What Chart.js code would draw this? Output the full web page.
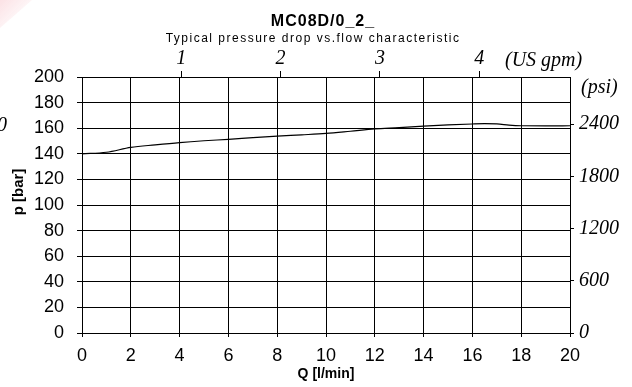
<!DOCTYPE html>
<html>
<head>
<meta charset="utf-8">
<script src="https://cdn.jsdelivr.net/npm/chart.js@4/dist/chart.umd.min.js"></script>
<style>
  html, body { margin: 0; padding: 0; background: #fff; }
  canvas { display: block; }
</style>
</head>
<body>
<canvas id="dropChart" width="632" height="387"></canvas>
<script>
// pressure drop curve, flow in l/min, pressure in bar
const flowLpm = [0, 1, 2, 3, 4, 5, 6, 7, 8, 9, 10, 11, 12, 13, 14, 15, 16, 16.5, 17, 17.5, 18, 19, 20];
const pressureBar = [140, 141.2, 145, 147, 148.8, 150.2, 151.3, 152.6, 153.8, 154.8, 155.9, 157.6, 159.4,
                     160.4, 161.6, 162.6, 163.3, 163.5, 163.4, 162.4, 161.9, 161.8, 161.9];

// secondary unit ticks
const gpmTicks = [1, 2, 3, 4];
const psiTicks = [0, 600, 1200, 1800, 2400];

const LPM_PER_GPM = 4.07;
const PSI_PER_BAR = 14.7;

const chartTitle = 'MC08D/0_2_';
const chartSubtitle = 'Typical pressure drop vs.flow characteristic';

const sans = '"Liberation Sans", Arial, sans-serif';
const serif = '"Liberation Serif", "Times New Roman", serif';

// titles, unit captions and the rotated y caption
const sheetText = {
    id: 'sheetText',
    beforeDraw(chart) {
        const ctx = chart.ctx;
        ctx.save();
        const g = ctx.createLinearGradient(0, 0, 24, 24);
        g.addColorStop(0, 'rgba(245,170,180,0.35)');
        g.addColorStop(1, 'rgba(245,170,180,0)');
        ctx.fillStyle = g;
        ctx.beginPath();
        ctx.moveTo(0, 0);
        ctx.lineTo(32, 0);
        ctx.lineTo(0, 28);
        ctx.closePath();
        ctx.fill();
        ctx.restore();
    },
    afterDraw(chart) {
        const ctx = chart.ctx;
        ctx.save();
        ctx.fillStyle = '#000';
        ctx.textBaseline = 'alphabetic';

        ctx.textAlign = 'center';
        ctx.font = 'bold 16px ' + sans;
        ctx.letterSpacing = '1px';
        ctx.fillText(chartTitle, 323, 25.5);

        ctx.font = '12px ' + sans;
        ctx.letterSpacing = '1.5px';
        ctx.fillText(chartSubtitle, 313, 41.5);
        ctx.letterSpacing = '0px';

        ctx.textAlign = 'left';
        ctx.font = 'italic 20px ' + serif;
        ctx.fillText('(US gpm)', 505, 66);
        ctx.fillText('(psi)', 581, 93);
        ctx.fillText('0', -3, 131);

        ctx.font = 'bold 15px ' + sans;
        ctx.translate(23, 192);
        ctx.rotate(-Math.PI / 2);
        ctx.textAlign = 'center';
        ctx.fillText('p [bar]', 0, 0);
        ctx.restore();
    }
};

const points = flowLpm.map((q, i) => ({ x: q, y: pressureBar[i] }));

new Chart('dropChart', {
    type: 'scatter',
    data: {
        datasets: [{
            data: points,
            showLine: true,
            borderColor: '#000',
            borderWidth: 1.2,
            pointRadius: 0,
            cubicInterpolationMode: 'monotone',
            xAxisID: 'x',
            yAxisID: 'y'
        }]
    },
    options: {
        responsive: false,
        animation: false,
        devicePixelRatio: 1,
        layout: { padding: 0 },
        plugins: {
            legend: { display: false },
            tooltip: { enabled: false }
        },
        scales: {
            x: {
                type: 'linear',
                position: 'bottom',
                min: 0,
                max: 20,
                ticks: { stepSize: 2, color: '#000', font: { family: sans, size: 18 }, padding: 8 },
                grid: { color: '#000', lineWidth: 1, tickLength: 4 },
                border: { color: '#000' },
                title: {
                    display: true,
                    text: 'Q [l/min]',
                    color: '#000',
                    font: { family: sans, size: 14, weight: 'bold' },
                    padding: { top: 0, bottom: 4 }
                },
                afterFit(s) { s.height = 54; }
            },
            x2: {
                type: 'linear',
                position: 'top',
                min: 0,
                max: 20,
                afterBuildTicks(s) { s.ticks = gpmTicks.map(v => ({ value: v * LPM_PER_GPM })); },
                ticks: {
                    color: '#000',
                    font: { family: serif, size: 20, style: 'italic' },
                    padding: 0,
                    callback: v => String(Math.round(v / LPM_PER_GPM))
                },
                grid: { drawOnChartArea: false, color: '#000', tickLength: 6 },
                border: { color: '#000' },
                afterFit(s) { s.height = 77; }
            },
            y: {
                type: 'linear',
                position: 'left',
                min: 0,
                max: 200,
                ticks: { stepSize: 20, color: '#000', font: { family: sans, size: 18 }, padding: 13 },
                grid: { color: '#000', lineWidth: 1, tickLength: 5 },
                border: { color: '#000' },
                afterFit(s) { s.width = 82; }
            },
            y2: {
                type: 'linear',
                position: 'right',
                min: 0,
                max: 200 * PSI_PER_BAR,
                afterBuildTicks(s) { s.ticks = psiTicks.map(v => ({ value: v })); },
                ticks: {
                    color: '#000',
                    font: { family: serif, size: 20, style: 'italic' },
                    padding: 5,
                    callback: v => String(v)
                },
                grid: { drawOnChartArea: false, color: '#000', tickLength: 4 },
                border: { color: '#000' },
                afterFit(s) { s.width = 62; }
            }
        }
    },
    plugins: [sheetText]
});
</script>
</body>
</html>
